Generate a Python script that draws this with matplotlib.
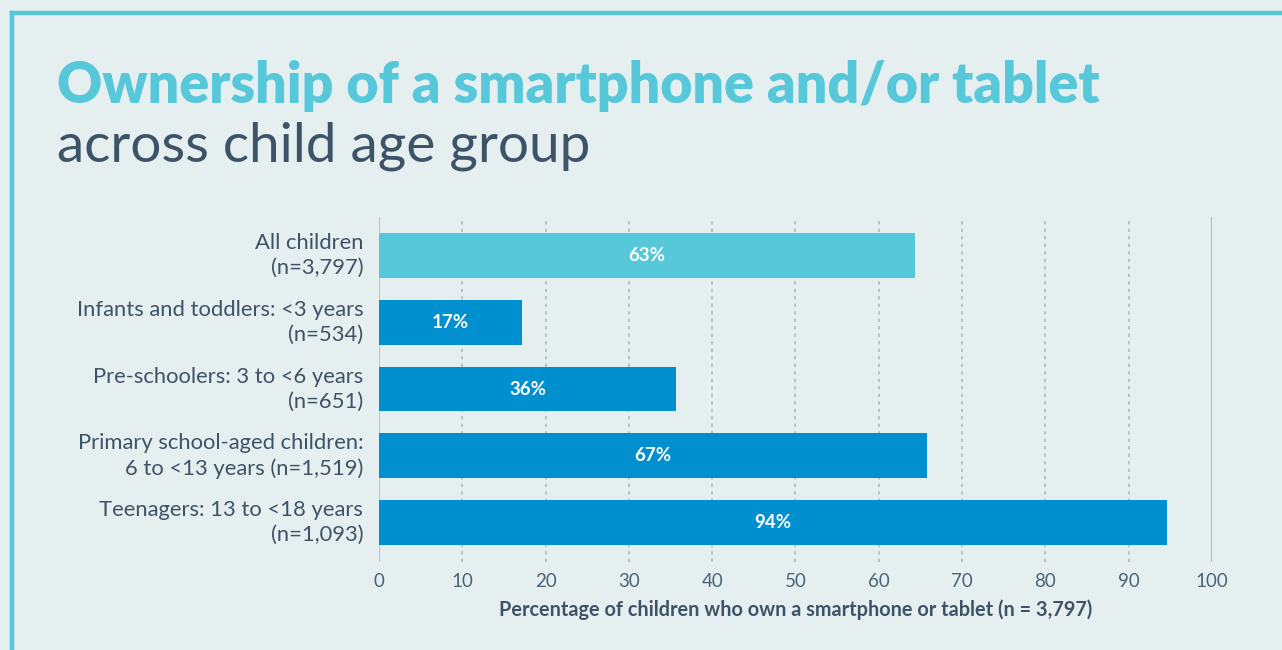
import matplotlib.pyplot as plt
from matplotlib.lines import Line2D

# data
categories = ["All children\n(n=3,797)",
              "Infants and toddlers: <3 years\n(n=534)",
              "Pre-schoolers: 3 to <6 years\n(n=651)",
              "Primary school-aged children:\n6 to <13 years (n=1,519)",
              "Teenagers: 13 to <18 years\n(n=1,093)"]
bar_lengths = [64.3, 17.2, 35.7, 65.8, 94.6]
value_labels = ["63%", "17%", "36%", "67%", "94%"]
ticks = [0, 10, 20, 30, 40, 50, 60, 70, 80, 90, 100]

bg = "#e6eff0"
cyan = "#56c8da"
blue = "#008fcf"
dark = "#3d5468"

plt.rcParams['font.family'] = ['Lato', 'DejaVu Sans']

fig = plt.figure(figsize=(12.82, 6.5), dpi=100, facecolor=bg)
ax = fig.add_axes([0.2956, 0.1354, 0.6498, 0.5308])
ax.set_facecolor(bg)

colors = [cyan] + [blue] * (len(bar_lengths) - 1)
ypos = list(range(len(bar_lengths)))
ax.barh(ypos, bar_lengths, height=0.67, color=colors, zorder=3)

for y, v, lab in zip(ypos, bar_lengths, value_labels):
    ax.text(v / 2, y, lab, ha='center', va='center', color='white',
            fontsize=13.5, fontweight='bold', zorder=4)

ax.set_xlim(0, 100)
ax.set_ylim(4.59, -0.577)
ax.set_yticks([])
ax.set_xticks(ticks)
ax.set_xticklabels([str(t) for t in ticks], fontsize=13.5, color="#4a6478")
ax.tick_params(axis='x', length=0, pad=8)
for s in ax.spines.values():
    s.set_visible(False)

for t in ticks[1:-1]:
    ax.axvline(t, color="#aebbc2", lw=1.2, ls=(0, (2, 2.5)), zorder=1)
ax.axvline(0, color="#b8c5cb", lw=1.5, zorder=2)
ax.axvline(100, color="#b0bec6", lw=1.5, zorder=2)

for y, cat in zip(ypos, categories):
    ax.text(-1.9, y, cat, ha='right', va='center', fontsize=15.8,
            color=dark, linespacing=1.3)

ax.set_xlabel("Percentage of children who own a smartphone or tablet (n = 3,797)",
              fontsize=14.3, fontweight='bold', color=dark, labelpad=7)

# title
fig.text(0.0445, 0.8415, "Ownership of a smartphone and/or tablet", fontsize=40,
         fontweight='heavy', color=cyan, va='baseline', ha='left')
fig.text(0.0445, 0.7508, "across child age group", fontsize=39.5,
         color=dark, va='baseline', ha='left')

# border
fig.add_artist(Line2D([0.0094, 1.0], [0.98, 0.98], color=cyan, lw=3.2,
                      transform=fig.transFigure))
fig.add_artist(Line2D([0.0094, 0.0094], [0.0, 0.98], color=cyan, lw=3.2,
                      transform=fig.transFigure))

fig.savefig("out.png", dpi=100, facecolor=bg)
